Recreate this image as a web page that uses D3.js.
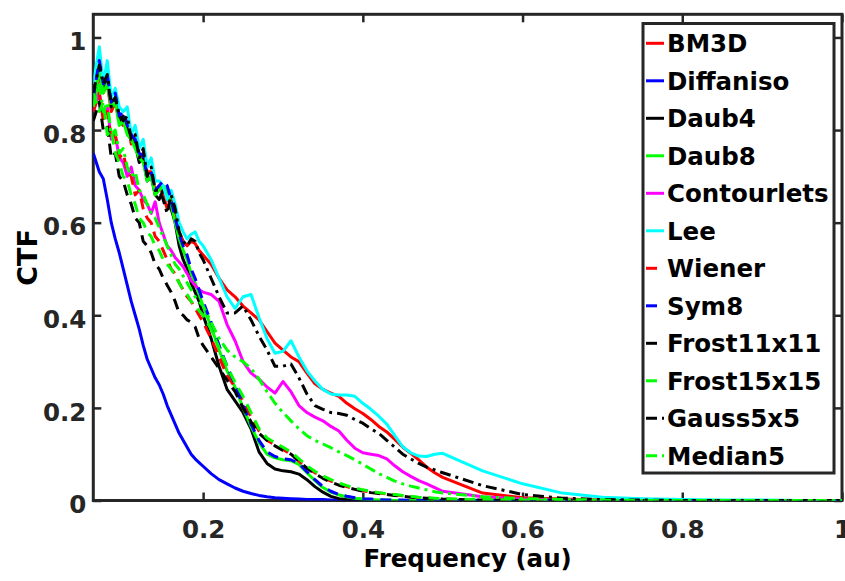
<!DOCTYPE html>
<html>
<head>
<meta charset="utf-8">
<script src="https://cdn.jsdelivr.net/npm/d3@7"></script>
<style>
  body { margin: 0; background: #fff; }
  svg { display: block; }
  text { font-family: "DejaVu Sans", sans-serif; font-weight: bold; }
</style>
</head>
<body>
<div id="chart"></div>
<script>
// ---------------- data ----------------
const freq = [0.0625,0.07,0.075,0.08,0.085,0.09,0.095,0.1,0.105,0.11,0.115,0.12,0.125,0.13,0.135,0.14,0.145,0.15,0.155,0.16,0.165,0.17,0.175,0.18,0.185,0.19,0.195,0.2,
  0.21,0.22,0.23,0.24,0.25,0.26,0.27,0.28,0.29,0.3,0.31,0.32,0.33,0.34,0.35,0.36,0.37,0.38,0.39,0.4,0.41,0.42,0.43,0.44,0.45,0.46,0.47,0.48,0.49,0.5,
  0.55,0.6,0.65,0.7,0.75,0.8,0.85,0.9,0.95,1.0];

const seriesNames = ["BM3D","Diffaniso","Daub4","Daub8","Contourlets","Lee","Wiener","Sym8","Frost11x11","Frost15x15","Gauss5x5","Median5"];

const bm3d = [0.85,0.92,0.88,0.90,0.84,0.86,0.82,0.81,0.82,0.77,0.78,0.74,0.75,0.71,0.71,0.67,0.68,0.66,0.63,0.65,0.62,0.58,0.56,0.55,0.56,0.555,0.54,0.53,
  0.51,0.48,0.455,0.44,0.42,0.405,0.39,0.365,0.34,0.325,0.31,0.30,0.275,0.252,0.24,0.232,0.225,0.21,0.198,0.188,0.175,0.16,0.148,0.132,0.115,0.102,0.088,0.072,0.06,0.05,
  0.016,0.006,0.003,0.001,0,0,0,0,0,0];
const diffaniso = [0.75,0.71,0.695,0.65,0.60,0.565,0.535,0.50,0.465,0.43,0.40,0.37,0.335,0.305,0.285,0.265,0.25,0.23,0.205,0.185,0.165,0.145,0.13,0.115,0.10,0.09,0.082,0.074,
  0.058,0.045,0.036,0.027,0.02,0.015,0.011,0.008,0.006,0.005,0.004,0.003,0.002,0.002,0.002,0.001,0.001,0.001,0.001,0,0,0,0,0,0,0,0,0,0,0,
  0,0,0,0,0,0,0,0,0,0];
const daub4 = [0.86,0.93,0.89,0.91,0.86,0.87,0.82,0.83,0.80,0.78,0.77,0.73,0.74,0.69,0.70,0.66,0.65,0.67,0.66,0.63,0.60,0.55,0.52,0.50,0.47,0.45,0.43,0.40,
  0.35,0.29,0.24,0.215,0.19,0.155,0.105,0.08,0.068,0.064,0.062,0.057,0.045,0.03,0.018,0.009,0.004,0.002,0.001,0,0,0,0,0,0,0,0,0,0,0,
  0,0,0,0,0,0,0,0,0,0];
const daub8 = [0.85,0.93,0.88,0.90,0.85,0.86,0.81,0.82,0.79,0.78,0.76,0.74,0.73,0.69,0.70,0.66,0.67,0.68,0.67,0.64,0.60,0.565,0.54,0.52,0.49,0.47,0.445,0.42,
  0.375,0.325,0.28,0.245,0.20,0.16,0.125,0.10,0.092,0.088,0.086,0.078,0.06,0.043,0.028,0.018,0.012,0.008,0.005,0.003,0.002,0.001,0.001,0,0,0,0,0,0,0,
  0,0,0,0,0,0,0,0,0,0];
const contourlets = [0.84,0.88,0.83,0.85,0.78,0.79,0.74,0.73,0.70,0.72,0.68,0.67,0.65,0.64,0.62,0.645,0.60,0.575,0.55,0.54,0.525,0.515,0.505,0.49,0.475,0.465,0.455,0.45,
  0.445,0.43,0.38,0.345,0.30,0.275,0.262,0.245,0.232,0.257,0.235,0.205,0.19,0.18,0.172,0.16,0.15,0.13,0.113,0.103,0.10,0.097,0.09,0.075,0.062,0.052,0.043,0.036,0.028,0.02,
  0.008,0.003,0.001,0,0,0,0,0,0,0];
const lee = [0.90,0.98,0.90,0.95,0.87,0.89,0.85,0.84,0.85,0.79,0.81,0.76,0.78,0.72,0.74,0.69,0.69,0.68,0.65,0.67,0.64,0.60,0.58,0.565,0.575,0.58,0.56,0.55,
  0.52,0.48,0.44,0.415,0.44,0.445,0.395,0.35,0.318,0.322,0.345,0.31,0.28,0.258,0.24,0.23,0.228,0.228,0.225,0.21,0.197,0.182,0.165,0.14,0.116,0.103,0.096,0.095,0.10,0.102,
  0.064,0.036,0.016,0.007,0.004,0.002,0.001,0.001,0,0];
const wiener = [0.84,0.88,0.82,0.84,0.78,0.79,0.74,0.75,0.71,0.70,0.66,0.67,0.63,0.61,0.60,0.57,0.56,0.54,0.52,0.50,0.49,0.47,0.455,0.44,0.43,0.415,0.40,0.385,
  0.35,0.31,0.27,0.245,0.215,0.18,0.15,0.13,0.12,0.11,0.10,0.085,0.07,0.06,0.05,0.042,0.035,0.03,0.025,0.021,0.018,0.016,0.014,0.012,0.01,0.008,0.006,0.005,0.004,0.003,
  0.001,0,0,0,0,0,0,0,0,0];
const sym8 = [0.87,0.95,0.90,0.92,0.86,0.88,0.83,0.84,0.81,0.79,0.78,0.75,0.745,0.70,0.71,0.67,0.68,0.69,0.68,0.65,0.61,0.575,0.55,0.53,0.50,0.48,0.455,0.43,
  0.385,0.335,0.29,0.25,0.205,0.165,0.13,0.105,0.095,0.09,0.088,0.08,0.062,0.045,0.03,0.02,0.013,0.009,0.006,0.004,0.003,0.002,0.001,0.001,0.001,0,0,0,0,0,
  0,0,0,0,0,0,0,0,0,0];
const frost11 = [0.82,0.86,0.80,0.81,0.74,0.75,0.70,0.69,0.66,0.64,0.61,0.60,0.56,0.55,0.535,0.51,0.50,0.48,0.465,0.45,0.43,0.405,0.40,0.39,0.385,0.375,0.35,0.335,
  0.31,0.285,0.26,0.235,0.20,0.17,0.145,0.13,0.118,0.108,0.10,0.085,0.07,0.058,0.048,0.04,0.033,0.028,0.024,0.02,0.017,0.015,0.013,0.011,0.009,0.007,0.006,0.005,0.004,0.003,
  0.001,0,0,0,0,0,0,0,0,0];
const frost15 = [0.88,0.84,0.86,0.79,0.80,0.75,0.73,0.70,0.69,0.66,0.64,0.61,0.60,0.58,0.57,0.55,0.54,0.52,0.51,0.50,0.485,0.47,0.455,0.445,0.43,0.42,0.41,0.40,
  0.37,0.33,0.29,0.255,0.225,0.19,0.155,0.135,0.125,0.115,0.105,0.09,0.075,0.063,0.053,0.045,0.038,0.032,0.027,0.023,0.02,0.017,0.015,0.013,0.011,0.009,0.007,0.006,0.005,0.004,
  0.002,0.001,0,0,0,0,0,0,0,0];
const gauss5 = [0.88,0.94,0.90,0.92,0.85,0.87,0.83,0.82,0.83,0.78,0.79,0.74,0.76,0.70,0.72,0.67,0.67,0.65,0.62,0.66,0.63,0.58,0.56,0.55,0.565,0.56,0.535,0.52,
  0.48,0.44,0.405,0.405,0.42,0.39,0.355,0.325,0.29,0.29,0.295,0.265,0.23,0.205,0.197,0.19,0.188,0.184,0.175,0.167,0.155,0.145,0.13,0.115,0.10,0.09,0.08,0.072,0.066,0.06,
  0.032,0.013,0.005,0.002,0.001,0,0,0,0,0];
const median5 = [0.85,0.90,0.84,0.86,0.79,0.80,0.75,0.76,0.72,0.70,0.71,0.67,0.66,0.64,0.62,0.61,0.59,0.57,0.55,0.53,0.51,0.50,0.485,0.47,0.455,0.44,0.43,0.42,
  0.385,0.35,0.325,0.31,0.30,0.285,0.262,0.235,0.21,0.19,0.172,0.155,0.14,0.13,0.122,0.114,0.105,0.097,0.088,0.078,0.068,0.058,0.05,0.042,0.036,0.031,0.027,0.023,0.019,0.016,
  0.008,0.004,0.002,0.001,0,0,0,0,0,0];

const seriesValues = [bm3d, diffaniso, daub4, daub8, contourlets, lee, wiener, sym8, frost11, frost15, gauss5, median5];
const seriesColors = ["#ff0000","#0000ff","#000000","#00ff00","#ff00ff","#00ffff","#ff0000","#0000ff","#000000","#00ff00","#000000","#00ff00"];
const seriesDash = [null,null,null,null,null,null,"11,7","11,7","11,7","11,7","11,5,3,5","11,5,3,5"];

const xTicks = [0.2,0.4,0.6,0.8,1];
const xTickLabels = ["0.2","0.4","0.6","0.8","1"];
const yTicks = [0,0.2,0.4,0.6,0.8,1];
const yTickLabels = ["0","0.2","0.4","0.6","0.8","1"];
const xLabel = "Frequency (au)";
const yLabel = "CTF";

// ---------------- layout ----------------
const W = 845, H = 581;
const box = {left: 93.3, right: 842, top: 14.3, bottom: 500.5};
const axisColor = "#262626";

const x = d3.scaleLinear().domain([0.0625, 1]).range([box.left, box.right]);
const y = d3.scaleLinear().domain([0, 1.05]).range([box.bottom, box.top]);

const svg = d3.select("#chart").append("svg").attr("width", W).attr("height", H);
svg.append("rect").attr("width", W).attr("height", H).attr("fill", "#fff");

svg.append("clipPath").attr("id", "plotclip").append("rect")
  .attr("x", box.left).attr("y", box.top)
  .attr("width", box.right - box.left).attr("height", box.bottom - box.top);

function styleAxis(g, showText) {
  g.select(".domain").remove();
  g.selectAll(".tick line").attr("stroke", axisColor).attr("stroke-width", 2.5);
  g.selectAll(".tick text").attr("fill", axisColor).attr("font-size", 24.5)
    .attr("font-family", "DejaVu Sans, sans-serif").attr("font-weight", "bold");
  if (!showText) g.selectAll(".tick text").remove();
}

const gx = svg.append("g").attr("transform", `translate(0,${box.bottom})`)
  .call(d3.axisBottom(x).tickValues(xTicks).tickFormat((d, i) => xTickLabels[i])
    .tickSizeInner(-8).tickSizeOuter(0).tickPadding(20));
styleAxis(gx, true);

const gxt = svg.append("g").attr("transform", `translate(0,${box.top})`)
  .call(d3.axisTop(x).tickValues(xTicks).tickSizeInner(-8).tickSizeOuter(0));
styleAxis(gxt, false);

const gy = svg.append("g").attr("transform", `translate(${box.left},0)`)
  .call(d3.axisLeft(y).tickValues(yTicks).tickFormat((d, i) => yTickLabels[i])
    .tickSizeInner(-8).tickSizeOuter(0).tickPadding(7));
styleAxis(gy, true);
gy.selectAll(".tick text").attr("dy", "0.5em");

const gyr = svg.append("g").attr("transform", `translate(${box.right},0)`)
  .call(d3.axisRight(y).tickValues(yTicks).tickSizeInner(-8).tickSizeOuter(0));
styleAxis(gyr, false);

svg.append("rect")
  .attr("x", box.left).attr("y", box.top)
  .attr("width", box.right - box.left).attr("height", box.bottom - box.top)
  .attr("fill", "none").attr("stroke", axisColor).attr("stroke-width", 3);

// ---------------- lines ----------------
const line = d3.line().x(d => x(d[0])).y(d => y(d[1]));
const plot = svg.append("g").attr("clip-path", "url(#plotclip)");
seriesNames.forEach((name, i) => {
  const pts = freq.map((f, k) => [f, seriesValues[i][k]]);
  plot.append("path").datum(pts)
    .attr("d", line)
    .attr("fill", "none")
    .attr("stroke", seriesColors[i])
    .attr("stroke-width", 3)
    .attr("stroke-linejoin", "round")
    .attr("stroke-dasharray", seriesDash[i]);
});

// ---------------- axis labels ----------------
svg.append("text").attr("x", (box.left + box.right) / 2).attr("y", 567)
  .attr("text-anchor", "middle").attr("font-size", 24.5).attr("fill", "#000")
  .text(xLabel);
svg.append("text").attr("transform", `translate(37,${(box.top + box.bottom) / 2}) rotate(-90)`)
  .attr("text-anchor", "middle").attr("font-size", 27).attr("fill", "#000")
  .text(yLabel);

// ---------------- legend ----------------
const leg = svg.append("g");
leg.append("rect").attr("x", 643).attr("y", 23.5).attr("width", 191).attr("height", 449.5)
  .attr("fill", "#fff").attr("stroke", axisColor).attr("stroke-width", 3);
seriesNames.forEach((name, i) => {
  const cy = 43.3 + 37.5 * i;
  leg.append("line").attr("x1", 646).attr("x2", 664).attr("y1", cy).attr("y2", cy)
    .attr("stroke", seriesColors[i]).attr("stroke-width", 3)
    .attr("stroke-dasharray", seriesDash[i]);
  leg.append("text").attr("x", 667).attr("y", cy + 9).attr("font-size", 24.5)
    .attr("fill", "#000").text(name);
});
</script>
</body>
</html>
